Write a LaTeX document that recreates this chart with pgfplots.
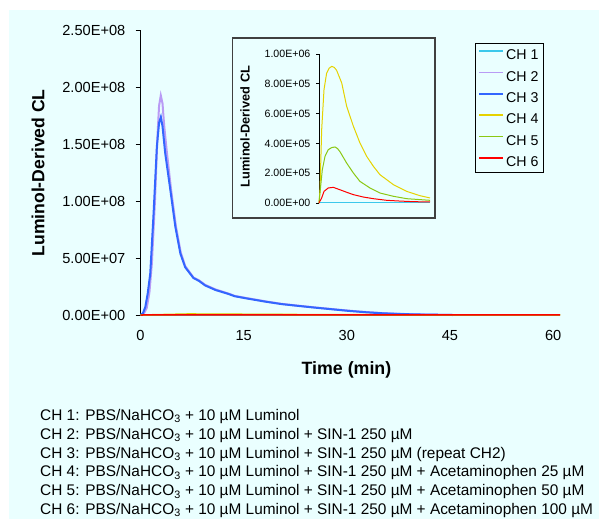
\documentclass[border=0pt]{standalone}
\usepackage{fontspec}
\setmainfont{Liberation Sans}
\usepackage{pgfplots}
\pgfplotsset{compat=1.18}
\definecolor{bgc}{RGB}{234,255,255}
\definecolor{cha}{RGB}{60,200,235}
\definecolor{chb}{RGB}{185,155,245}
\definecolor{chc}{RGB}{51,102,255}
\definecolor{chd}{RGB}{230,210,0}
\definecolor{che}{RGB}{140,200,20}
\definecolor{chf}{RGB}{255,0,0}
\definecolor{boxc}{RGB}{64,64,64}
\begin{document}
\begin{tikzpicture}[x=1pt,y=1pt]
\useasboundingbox (0pt,0pt) rectangle (599pt,-519pt);
\fill[white] (0pt,0pt) rectangle (599pt,-519pt);
\fill[bgc] (9pt,-10pt) rectangle (599pt,-519pt);
\begin{axis}[
  at={(140.5pt,-315pt)}, anchor=south west, scale only axis,
  width=419.5pt, height=284.3pt,
  xmin=0, xmax=61, ymin=0, ymax=2.5e8,
  axis x line*=bottom, axis y line*=left,
  axis line style={black, line width=1.3pt},
  clip=false, scaled y ticks=false, scaled x ticks=false,
  xtick={0,15,30,45,60},
  xticklabels={0,15,30,45,60},
  ytick={0,5e7,1e8,1.5e8,2e8,2.5e8},
  yticklabels={0.00E+00,5.00E+07,1.00E+08,1.50E+08,2.00E+08,2.50E+08},
  tick align=outside, major tick length=5pt,
  xtick style={draw=none},
  ytick style={black, line width=1pt},
  ticklabel style={font=\fontsize{14.6}{16}\selectfont, inner sep=0pt},
  yticklabel style={xshift=-10pt},
  xticklabel style={yshift=-10.5pt},
  ylabel={\textbf{Luminol-Derived CL}},
  ylabel style={font=\fontsize{17.6}{20}\selectfont, at={(axis description cs:-0.244,0.5)}, anchor=center},
  xlabel={\textbf{Time (min)}},
  xlabel style={font=\fontsize{17.8}{20}\selectfont, at={(axis description cs:0.491,-0.1935)}, anchor=center},
  legend style={at={(0.798,0.9557)}, anchor=north west, draw=black, line width=0.8pt, fill=bgc,
    font=\fontsize{14.2}{16}\selectfont, inner xsep=3pt, inner ysep=6pt, row sep=11pt,
    nodes={inner xsep=1.8pt, inner ysep=0pt, text height=10.3pt, text depth=0pt}},
  legend cell align=left,
  legend image code/.code={\draw[#1, line width=1.6pt] (0pt,3.6pt) -- (24pt,3.6pt);},
]
\addplot[cha, line width=1.5pt] coordinates {(0,0) (10,0) (20,0) (30,0) (40,0) (50,0) (61,0)};
\addlegendentry{CH 1}
\addplot[chb, line width=2pt] coordinates {
(0,0) (0.5,1.5e6) (0.9,6e6) (1.3,2.0e7) (1.65,4.5e7) (2.1,1.0e8) (2.45,1.55e8) (2.7,1.84e8) (2.95,1.93e8)
(3.2,1.86e8) (3.45,1.66e8) (3.8,1.45e8) (4.45,1.10e8) (5.15,7.8e7) (5.85,5.5e7) (6.5,4.3e7) (7.7,3.3e7)
(8.5,3.05e7) (9.4,2.65e7) (10.9,2.25e7) (12.8,1.88e7) (13.7,1.68e7) (15.5,1.48e7) (18.2,1.2e7)
(20.5,9.8e6) (23.1,8.1e6) (25.5,6.6e6) (27.9,5.2e6) (30.3,3.8e6) (32.8,2.6e6) (35.2,1.6e6)
(37.7,1.0e6) (40,6e5) (42.5,3e5) (45.4,0)};
\addlegendentry{CH 2}
\addplot[chc, line width=2pt] coordinates {
(0,0) (0.35,1.5e6) (0.7,7e6) (1.05,1.9e7) (1.42,3.66e7) (1.9,8.9e7) (2.38,1.48e8) (2.7,1.69e8) (2.96,1.74e8)
(3.2,1.66e8) (3.6,1.42e8) (4.34,1.10e8) (5.07,7.75e7) (5.8,5.4e7) (6.5,4.2e7) (7.7,3.25e7) (8.5,3.0e7)
(9.4,2.6e7) (10.9,2.2e7) (12.8,1.85e7) (13.7,1.65e7) (15.5,1.45e7) (18.2,1.17e7) (20.5,9.6e6)
(23.1,7.9e6) (25.5,6.4e6) (27.9,5.0e6) (30.3,3.6e6) (32.8,2.4e6) (35.2,1.5e6) (37.7,9e5)
(40,5e5) (42.5,3e5) (45.4,0)};
\addlegendentry{CH 3}
\addplot[chd, line width=1.5pt] coordinates {(0,0) (7,9.2e5) (15.2,6.5e5) (29.9,2.5e5) (61,3.4e4)};
\addlegendentry{CH 4}
\addplot[che, line width=1.5pt] coordinates {(0,0) (8.8,3.8e5) (22.5,2.0e5) (40.9,4.5e4) (61,1.8e4)};
\addlegendentry{CH 5}
\addplot[chf, line width=1.5pt] coordinates {(0,0) (7.9,1.05e5) (18.9,5.6e4) (37.2,1.8e4) (61,7e3)};
\addlegendentry{CH 6}
\end{axis}
\draw[boxc, line width=1.2pt, fill=bgc] (232.7pt,-38pt) rectangle (435pt,-218pt);
\begin{axis}[
  at={(319pt,-203pt)}, anchor=south west, scale only axis,
  width=111pt, height=149pt,
  xmin=0, xmax=61, ymin=0, ymax=1e6,
  axis x line=none, axis y line*=left,
  axis line style={black, line width=0.8pt},
  clip=false, scaled y ticks=false,
  ytick={0,2e5,4e5,6e5,8e5,1e6},
  yticklabels={0.00E+00,2.00E+05,4.00E+05,6.00E+05,8.00E+05,1.00E+06},
  tick align=outside, major tick length=3pt,
  ytick style={black, line width=0.8pt},
  ticklabel style={font=\fontsize{10.6}{12}\selectfont, inner sep=0pt},
  yticklabel style={xshift=-5.5pt},
  ylabel={\textbf{Luminol-Derived CL}},
  ylabel style={font=\fontsize{12.8}{14}\selectfont, at={(axis description cs:-0.667,0.512)}, anchor=center},
]
\addplot[cha, line width=1pt] coordinates {(0,2e3) (10,2e3) (20,2e3) (30,2e3) (40,2e3) (50,2e3) (61,2e3)};
\addplot[chd, line width=1pt] coordinates {
(0,0) (0.55,8.9e4) (1.47,4.92e5) (2.75,7.61e5) (4.2,8.72e5) (5.6,9.05e5) (7.0,9.17e5) (8.4,9.1e5) (9.7,8.9e5) (12.5,8.05e5)
(15.2,6.49e5) (18.9,5.15e5) (22.5,4.03e5) (26.2,3.13e5) (29.9,2.46e5) (33.5,1.9e5) (40.9,1.23e5)
(48.2,7.8e4) (55.5,4.9e4) (61,3.4e4)};
\addplot[che, line width=1pt] coordinates {
(0,0) (0.9,1.12e5) (1.83,2.24e5) (3.3,3.13e5) (5.1,3.58e5) (7.0,3.72e5) (8.8,3.76e5) (10.2,3.65e5) (11.5,3.45e5) (15.2,2.68e5)
(18.9,2.01e5) (22.5,1.45e5) (28.0,1.01e5) (33.5,6.7e4) (40.9,4.5e4) (48.2,2.9e4) (61,1.8e4)};
\addplot[chf, line width=1pt] coordinates {
(0,0) (1.47,3.4e4) (2.75,7.8e4) (5.1,1.01e5) (7.9,1.05e5) (11.5,8.9e4) (15.2,7.2e4) (18.9,5.6e4)
(24.4,4.0e4) (29.9,2.9e4) (37.2,1.8e4) (44.5,1.3e4) (51.8,9e3) (61,7e3)};
\end{axis}
\begin{scope}[every node/.style={anchor=base west, inner sep=0pt, font=\fontsize{15.4}{17}\selectfont}]
\node at (40pt,-420pt) {CH 1: PBS/NaHCO\textsubscript{3} + 10 µM Luminol};
\node at (40pt,-439.3pt) {CH 2: PBS/NaHCO\textsubscript{3} + 10 µM Luminol + SIN-1 250 µM};
\node at (40pt,-458.3pt) {CH 3: PBS/NaHCO\textsubscript{3} + 10 µM Luminol + SIN-1 250 µM (repeat CH2)};
\node at (40pt,-476.7pt) {CH 4: PBS/NaHCO\textsubscript{3} + 10 µM Luminol + SIN-1 250 µM + Acetaminophen 25 µM};
\node at (40pt,-495.7pt) {CH 5: PBS/NaHCO\textsubscript{3} + 10 µM Luminol + SIN-1 250 µM + Acetaminophen 50 µM};
\node at (40pt,-514.3pt) {CH 6: PBS/NaHCO\textsubscript{3} + 10 µM Luminol + SIN-1 250 µM + Acetaminophen 100 µM};
\end{scope}
\end{tikzpicture}
\end{document}
